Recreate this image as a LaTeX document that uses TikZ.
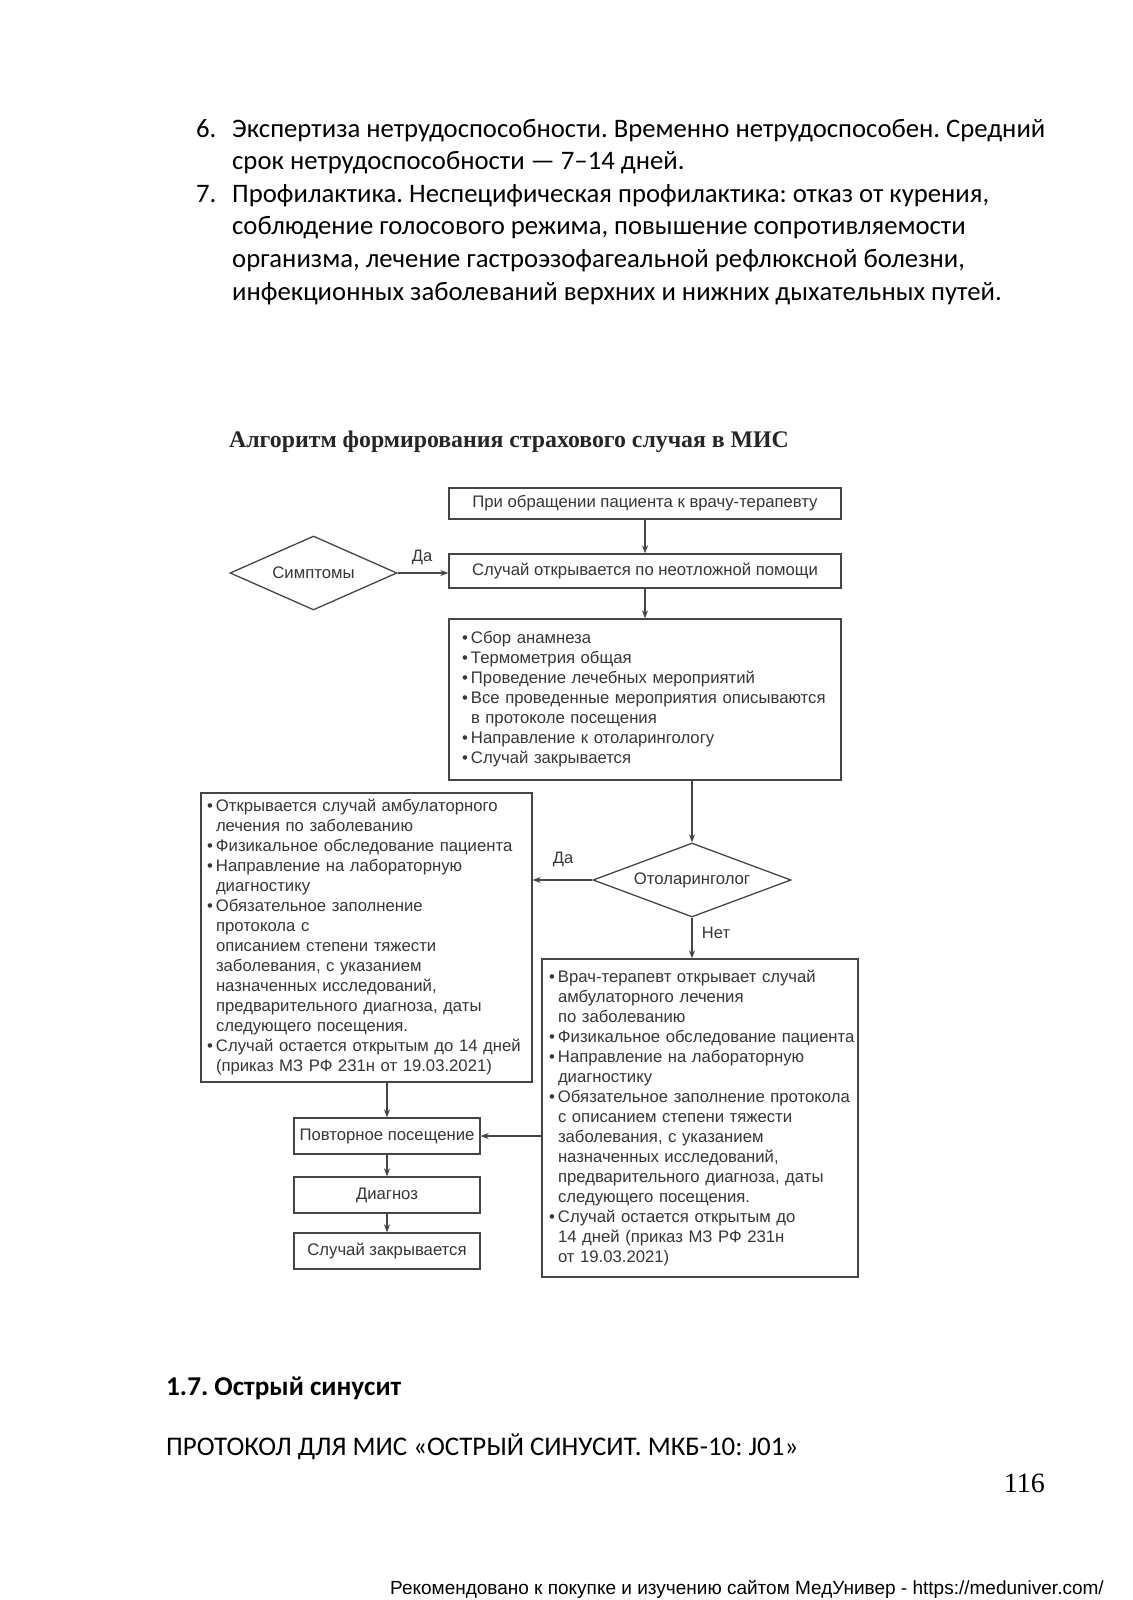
\documentclass[tikz,border=0pt]{standalone}
\usepackage{fontspec}
\setmainfont{Carlito}
\newfontfamily\flowfont{Liberation Sans}
\newfontfamily\serffont{Liberation Serif}
\usetikzlibrary{shapes.geometric,arrows.meta}
\definecolor{ln}{HTML}{454545}
\definecolor{tx}{HTML}{363636}
\newcommand{\bl}[1]{\mbox{\makebox[9pt][l]{•}#1}}
\newcommand{\ct}[1]{\mbox{\hspace*{9pt}#1}}
\frenchspacing
\begin{document}
\begin{tikzpicture}[x=1pt,y=-1pt,
  body/.style={anchor=base west,inner sep=0pt,font=\fontsize{26.7}{32.6}\selectfont},
  fbox/.style={draw=ln,line width=1.3pt,rectangle,inner sep=0pt,text=tx,font=\flowfont\fontsize{16.7}{20}\selectfont},
  lbox/.style={fbox,align=left},
  dmd/.style={draw=ln,line width=1.3pt,diamond,inner sep=0pt,text=tx,font=\flowfont\fontsize{16.7}{20}\selectfont},
  lab/.style={inner sep=0pt,text=tx,font=\flowfont\fontsize{16.5}{20}\selectfont},
  arr/.style={draw=ln,line width=1.3pt,-{Stealth[length=8pt,width=6pt]}},
  lin/.style={draw=ln,line width=1.3pt}
]
\useasboundingbox[fill=white] (0,0) rectangle (1132,1600);

% upper text
\node[body] (n6) at (196,137) {6.};
\node[body] (t6a) at (232,137) {Экспертиза нетрудоспособности. Временно нетрудоспособен. Средний};
\node[body] (t6b) at (232,169.6) {срок нетрудоспособности — 7–14 дней.};
\node[body] (n7) at (196,202.2) {7.};
\node[body] (t7a) at (232,202.2) {Профилактика. Неспецифическая профилактика: отказ от курения,};
\node[body] (t7b) at (232,234.8) {соблюдение голосового режима, повышение сопротивляемости};
\node[body] (t7c) at (232,267.4) {организма, лечение гастроэзофагеальной рефлюксной болезни,};
\node[body] (t7d) at (232,300) {инфекционных заболеваний верхних и нижних дыхательных путей.};

% title
\node[anchor=base west,inner sep=0pt,text=black!85,font=\serffont\bfseries\fontsize{23.8}{28}\selectfont] (title) at (229,447) {Алгоритм формирования страхового случая в МИС};

% flowchart
\node[fbox,minimum width=392pt,minimum height=31pt] (b1) at (645,503.5) {При обращении пациента к врачу-терапевту};
\node[fbox,minimum width=392pt,minimum height=34pt] (b2) at (645,571) {Случай открывается по неотложной помощи};
\node[dmd,aspect=2.3,minimum width=167pt,minimum height=74pt] (d1) at (313.5,573) {Симптомы};
\node[lbox,minimum width=392pt,minimum height=161pt,text width=366pt] (b3) at (645,699.5) {%
\bl{Сбор анамнеза}\\
\bl{Термометрия общая}\\
\bl{Проведение лечебных мероприятий}\\
\bl{Все проведенные мероприятия описываются}\\
\ct{в протоколе посещения}\\
\bl{Направление к отоларингологу}\\
\bl{Случай закрывается}};
\node[dmd,aspect=2.7,minimum width=198pt,minimum height=74pt] (d2) at (692,880) {Отоларинголог};
\node[lbox,minimum width=331pt,minimum height=289pt,text width=319pt] (bL) at (366.5,937.5) {%
\bl{Открывается случай амбулаторного}\\
\ct{лечения по заболеванию}\\
\bl{Физикальное обследование пациента}\\
\bl{Направление на лабораторную}\\
\ct{диагностику}\\
\bl{Обязательное заполнение}\\
\ct{протокола с}\\
\ct{описанием степени тяжести}\\
\ct{заболевания, с указанием}\\
\ct{назначенных исследований,}\\
\ct{предварительного диагноза, даты}\\
\ct{следующего посещения.}\\
\bl{Случай остается открытым до 14 дней}\\
\ct{(приказ МЗ РФ 231н от 19.03.2021)}};
\node[lbox,minimum width=316pt,minimum height=318pt,text width=302pt] (bR) at (700,1118) {%
\bl{Врач-терапевт открывает случай}\\
\ct{амбулаторного лечения}\\
\ct{по заболеванию}\\
\bl{Физикальное обследование пациента}\\
\bl{Направление на лабораторную}\\
\ct{диагностику}\\
\bl{Обязательное заполнение протокола}\\
\ct{с описанием степени тяжести}\\
\ct{заболевания, с указанием}\\
\ct{назначенных исследований,}\\
\ct{предварительного диагноза, даты}\\
\ct{следующего посещения.}\\
\bl{Случай остается открытым до}\\
\ct{14 дней (приказ МЗ РФ 231н}\\
\ct{от 19.03.2021)}};
\node[fbox,minimum width=186pt,minimum height=36pt] (bP) at (387,1136) {Повторное посещение};
\node[fbox,minimum width=186pt,minimum height=36pt] (bD) at (387,1195) {Диагноз};
\node[fbox,minimum width=186pt,minimum height=36pt] (bC) at (387,1251) {Случай закрывается};

\draw[arr] (b1) -- (b2);
\draw[arr] (d1.east) -- (b2.west |- d1.east);
\draw[arr] (b2) -- (b3);
\draw[arr] (b3.south -| d2.north) -- (d2.north);
\draw[arr] (d2.west) -- (bL.east |- d2.west);
\draw[arr] (d2.south) -- (d2.south |- bR.north);
\draw[arr] (bL.south -| bP.north) -- (bP.north);
\draw[arr] (bR.west |- bP.east) -- (bP.east);
\draw[arr] (bP) -- (bD);
\draw[arr] (bD) -- (bC);

\node[lab] (yes1) at (422,557) {Да};
\node[lab] (yes2) at (563,859) {Да};
\node[lab] (no2) at (716,933) {Нет};

% lower text
\node[anchor=base west,inner sep=0pt,font=\bfseries\fontsize{27.2}{32}\selectfont] (sec) at (166,1395) {1.7. Острый синусит};
\node[anchor=base west,inner sep=0pt,font=\fontsize{26.9}{32}\selectfont] (prot) at (166,1455) {ПРОТОКОЛ ДЛЯ МИС «ОСТРЫЙ СИНУСИТ. МКБ-10: J01»};
\node[anchor=base east,inner sep=0pt,font=\serffont\fontsize{28}{32}\selectfont] (pg) at (1045,1492) {116};
\node[anchor=base west,inner sep=0pt,font=\flowfont\fontsize{19}{22}\selectfont] (foot) at (390,1594) {Рекомендовано к покупке и изучению сайтом МедУнивер - https://meduniver.com/};
\end{tikzpicture}
\end{document}
